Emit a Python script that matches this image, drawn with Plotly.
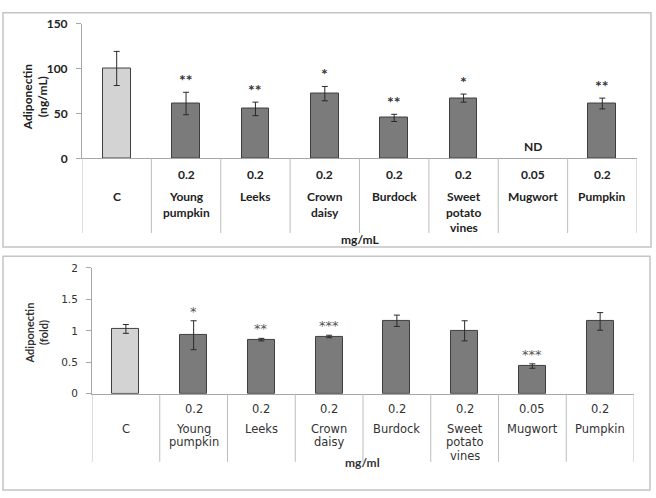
import plotly.graph_objects as go

# ---------------- data ----------------
categories = ["C", "Young pumpkin", "Leeks", "Crown daisy", "Burdock",
              "Sweet potato vines", "Mugwort", "Pumpkin"]
label_lines = [["C"], ["Young", "pumpkin"], ["Leeks"], ["Crown", "daisy"], ["Burdock"],
               ["Sweet", "potato", "vines"], ["Mugwort"], ["Pumpkin"]]
doses = ["", "0.2", "0.2", "0.2", "0.2", "0.2", "0.05", "0.2"]

top_vals = [100, 61, 55, 72, 45, 67, None, 61]
top_err = [19, 12.5, 7.5, 8, 4, 4.5, 0, 6]
top_sig = ["", "**", "**", "*", "**", "*", "", "**"]
top_nd = [False, False, False, False, False, False, True, False]
top_ticks = [0, 50, 100, 150]

bot_vals = [1.03, 0.93, 0.86, 0.91, 1.16, 1.00, 0.44, 1.15]
bot_err = [0.07, 0.23, 0.02, 0.02, 0.09, 0.16, 0.035, 0.14]
bot_sig = ["", "*", "**", "***", "", "", "***", ""]
bot_ticks = [0, 0.5, 1, 1.5, 2]
bot_ticktext = ["0", "0.5", "1", "1.5", "2"]

# ---------------- styling ----------------
W, H = 656, 498
def PX(p): return p / W
def PY(p): return 1 - p / H

LIGHT = "#d3d3d3"
DARK = "#7b7b7b"
EDGE = "#3f3f3f"
AXC = "#a6a6a6"
DIV = "#bdbdbd"
TOPFONT = "Lato"
BOTFONT = "DejaVu Sans"
bar_colors = [LIGHT] + [DARK] * (len(categories) - 1)

fig = go.Figure()
fig.add_bar(x=categories, y=top_vals, width=0.4,
            marker=dict(color=bar_colors, line=dict(color=EDGE, width=1)),
            error_y=dict(type="data", array=top_err, color="#2a2a2a", thickness=1, width=3),
            xaxis="x", yaxis="y", showlegend=False)
fig.add_bar(x=categories, y=bot_vals, width=0.4,
            marker=dict(color=bar_colors, line=dict(color=EDGE, width=1)),
            error_y=dict(type="data", array=bot_err, color="#2a2a2a", thickness=1, width=3),
            xaxis="x2", yaxis="y2", showlegend=False)

n = len(categories)
common_x = dict(range=[-0.5, n - 0.5], showline=True, linecolor=AXC, linewidth=1,
                showticklabels=False, ticks="", showgrid=False, zeroline=False, fixedrange=True)
common_y = dict(showline=True, linecolor=AXC, linewidth=1, ticks="outside", ticklen=5,
                tickcolor=AXC, showgrid=False, zeroline=False, fixedrange=True)

fig.update_layout(
    width=W, height=H, margin=dict(l=0, r=0, t=0, b=0),
    paper_bgcolor="white", plot_bgcolor="white", bargap=0,
    xaxis=dict(domain=[PX(82), PX(637)], anchor="y", **common_x),
    yaxis=dict(domain=[PY(155), PY(16)], anchor="x", range=[0, 150], tickvals=top_ticks,
               tickfont=dict(family=TOPFONT, size=12, color="#222", weight="bold"),
               ticklabelstandoff=6, **common_y),
    xaxis2=dict(domain=[PX(92), PX(634)], anchor="y2", **common_x),
    yaxis2=dict(domain=[PY(397.7), PY(268)], anchor="x2", range=[0, 2], tickvals=bot_ticks,
                ticktext=bot_ticktext,
                tickfont=dict(family=BOTFONT, size=10.5, color="#333"),
                ticklabelstandoff=6, **common_y),
)

shapes = []
# panel borders
shapes.append(dict(type="rect", xref="paper", yref="paper", x0=PX(3), x1=PX(651),
                   y0=PY(246.5), y1=PY(5), line=dict(color="#c4c4c4", width=1.5)))
shapes.append(dict(type="rect", xref="paper", yref="paper", x0=PX(3), x1=PX(650),
                   y0=PY(497), y1=PY(256), line=dict(color="#c4c4c4", width=1.5)))
# category table dividers
for i in range(n + 1):
    shapes.append(dict(type="line", xref="x", yref="paper", x0=i - 0.5, x1=i - 0.5,
                       y0=PY(155), y1=PY(232), line=dict(color=DIV, width=1)))
    shapes.append(dict(type="line", xref="x2", yref="paper", x0=i - 0.5, x1=i - 0.5,
                       y0=PY(397.7), y1=PY(468), line=dict(color=DIV, width=1)))

ann = []
tf = dict(family=TOPFONT, size=12, color="#222", weight="bold")
bf = dict(family=BOTFONT, size=11.5, color="#333")
for i, c in enumerate(categories):
    # top panel table
    if doses[i]:
        ann.append(dict(x=c, xref="x", y=PY(172), yref="paper", text=doses[i],
                        showarrow=False, font=tf, yanchor="middle"))
    for j, line in enumerate(label_lines[i]):
        ann.append(dict(x=c, xref="x", y=PY(194.5 + 16 * j), yref="paper", text=line,
                        showarrow=False, font=tf, yanchor="middle"))
    # bottom panel table
    if doses[i]:
        ann.append(dict(x=c, xref="x2", y=PY(413), yref="paper", text=doses[i],
                        showarrow=False, font=bf, yanchor="middle"))
    for j, line in enumerate(label_lines[i]):
        ann.append(dict(x=c, xref="x2", y=PY(434 + 13.7 * j), yref="paper", text=line,
                        showarrow=False, font=bf, yanchor="middle"))
    # significance marks
    if top_sig[i]:
        ann.append(dict(x=c, xref="x", y=top_vals[i] + top_err[i], yref="y",
                        text=top_sig[i], showarrow=False, yanchor="bottom", yshift=1,
                        font=dict(family=TOPFONT, size=16, color="#333", weight="bold")))
    if top_nd[i]:
        ann.append(dict(x=c, xref="x", y=0, yref="y", text="ND", showarrow=False,
                        yanchor="bottom", yshift=2, font=tf))
    if bot_sig[i]:
        ann.append(dict(x=c, xref="x2", y=bot_vals[i] + bot_err[i], yref="y2",
                        text=bot_sig[i], showarrow=False, yanchor="bottom", yshift=0,
                        font=dict(family=BOTFONT, size=13, color="#555")))

# axis titles
ann.append(dict(x=PX(35), y=PY(92), xref="paper", yref="paper", text="Adiponectin<br>(ng/mL)",
                textangle=-90, showarrow=False, xanchor="center", yanchor="middle",
                font=dict(family=TOPFONT, size=12, color="#222", weight="bold")))
ann.append(dict(x=PX(36.5), y=PY(335), xref="paper", yref="paper", text="Adiponectin<br>(fold)",
                textangle=-90, showarrow=False, xanchor="center", yanchor="middle",
                font=dict(family=TOPFONT, size=11, color="#333", weight="bold")))
ann.append(dict(x=PX(360), y=PY(239), xref="paper", yref="paper", text="mg/mL",
                showarrow=False, font=tf))
ann.append(dict(x=PX(362), y=PY(478), xref="paper", yref="paper", text="mg/ml",
                showarrow=False, font=dict(family=TOPFONT, size=12, color="#333", weight="bold")))

fig.update_layout(shapes=shapes, annotations=ann)
fig.write_html("out.html")
